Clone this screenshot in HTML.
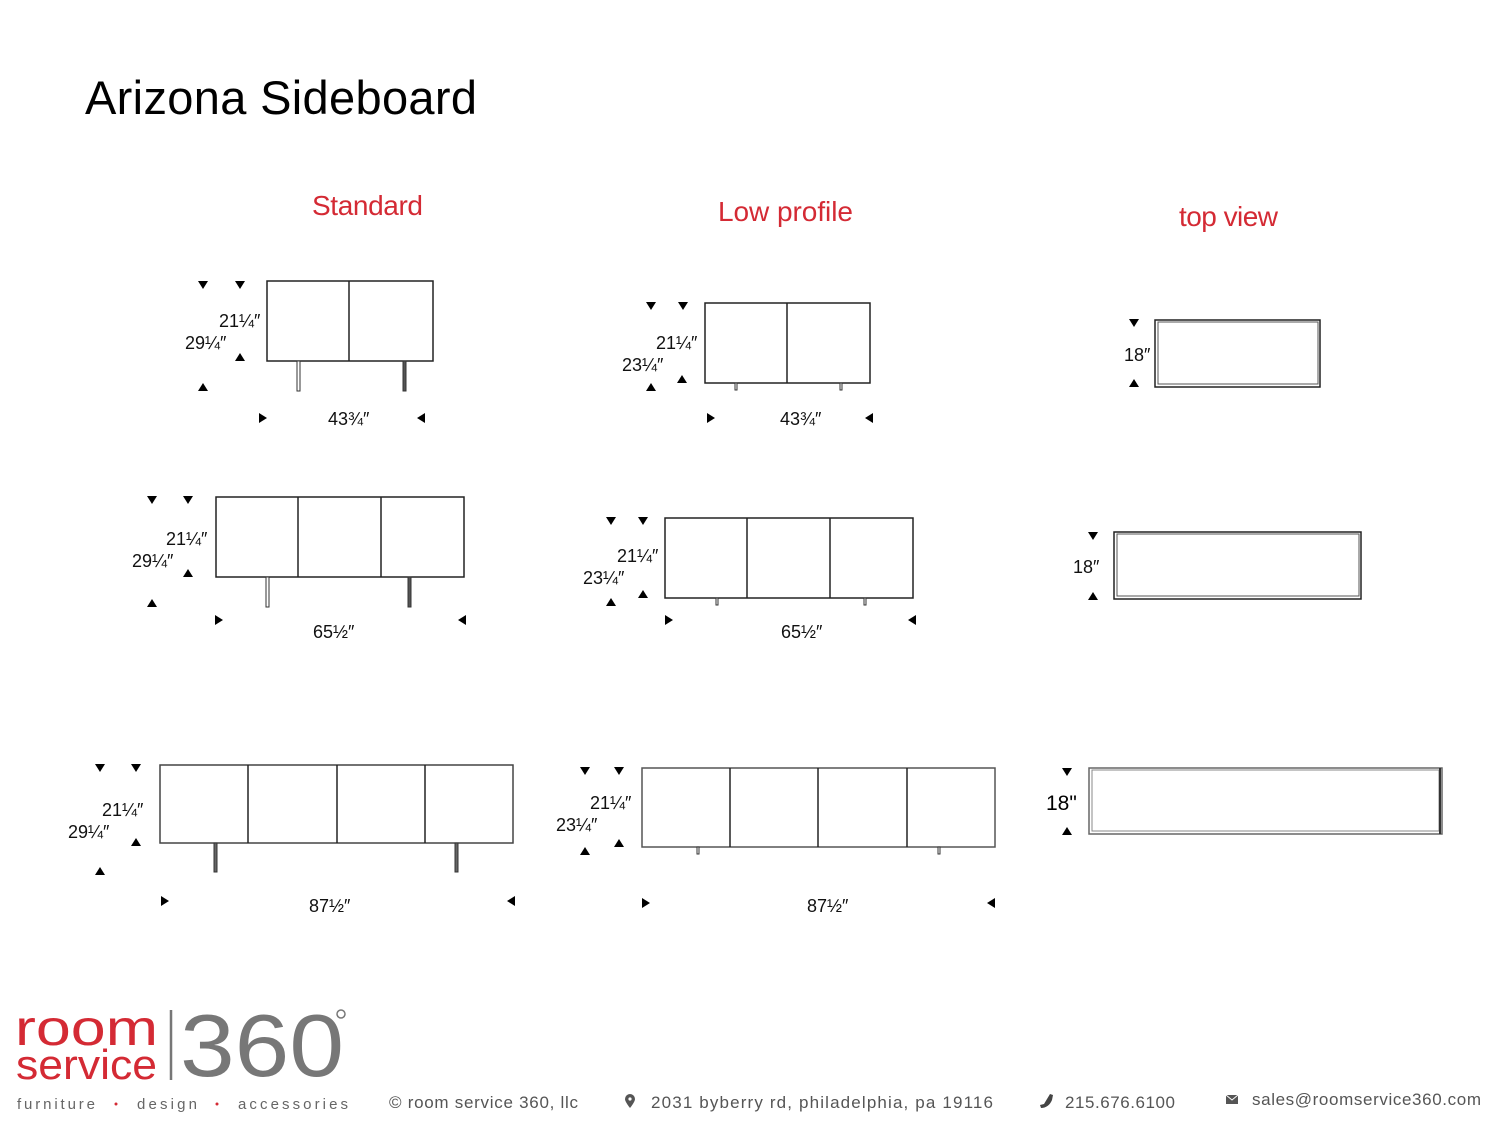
<!DOCTYPE html>
<html><head><meta charset="utf-8"><style>
html,body{margin:0;padding:0;background:#fff;width:1500px;height:1126px;overflow:hidden}
svg{display:block}
.d{font-family:"Liberation Sans",sans-serif;font-size:18px;fill:#111}
.h{font-family:"Liberation Sans",sans-serif;font-size:28px;fill:#d42a34}
.f{font-family:"Liberation Sans",sans-serif;font-size:17px;fill:#555}
.b{fill:#fff;stroke:#222;stroke-width:1.5}
.l{stroke:#222;stroke-width:1.5}
.g{fill:#fff;stroke:#333;stroke-width:1}
</style></head><body>
<svg width="1500" height="1126" viewBox="0 0 1500 1126" xmlns="http://www.w3.org/2000/svg">
<text x="85" y="114" font-family="Liberation Sans,sans-serif" font-size="47" fill="#000" textLength="392">Arizona Sideboard</text>
<text x="312" y="215" class="h" textLength="111">Standard</text>
<text x="718" y="221" class="h" textLength="135">Low profile</text>
<text x="1179" y="226" class="h" textLength="99">top view</text>

<!-- Standard row1 -->
<rect x="267" y="281" width="166" height="80" class="b"/>
<line x1="349" y1="281" x2="349" y2="361" class="l"/>
<rect x="297" y="361" width="3" height="30" class="g"/><rect x="403" y="361" width="3" height="30" class="g" style="fill:#555"/>
<path d="M198 281h10l-5 8zM235 281h10l-5 8zM235 361h10l-5-8zM198 391h10l-5-8zM259 413v10l8-5zM425 413v10l-8-5z"/>
<text x="219" y="327" class="d">21¼″</text><text x="185" y="349" class="d">29¼″</text><text x="328" y="425" class="d">43¾″</text>

<!-- Low row1 -->
<rect x="705" y="303" width="165" height="80" class="b"/>
<line x1="787" y1="303" x2="787" y2="383" class="l"/>
<rect x="735" y="383" width="2" height="7" class="g"/><rect x="840" y="383" width="2" height="7" class="g"/>
<path d="M646 302h10l-5 8zM678 302h10l-5 8zM677 383h10l-5-8zM646 391h10l-5-8zM707 413v10l8-5zM873 413v10l-8-5z"/>
<text x="656" y="349" class="d">21¼″</text><text x="622" y="371" class="d">23¼″</text><text x="780" y="425" class="d">43¾″</text>

<!-- Top row1 -->
<rect x="1155" y="320" width="165" height="67" class="b"/>
<rect x="1158" y="322" width="160" height="62" fill="none" stroke="#555" stroke-width="1"/>
<path d="M1129 319h10l-5 8zM1129 387h10l-5-8z"/>
<text x="1124" y="361" class="d">18″</text>

<!-- Standard row2 -->
<rect x="216" y="497" width="248" height="80" class="b"/>
<line x1="298" y1="497" x2="298" y2="577" class="l"/><line x1="381" y1="497" x2="381" y2="577" class="l"/>
<rect x="266" y="577" width="3" height="30" class="g"/><rect x="408" y="577" width="3" height="30" class="g" style="fill:#555"/>
<path d="M147 496h10l-5 8zM183 496h10l-5 8zM183 577h10l-5-8zM147 607h10l-5-8zM215 615v10l8-5zM466 615v10l-8-5z"/>
<text x="166" y="545" class="d">21¼″</text><text x="132" y="567" class="d">29¼″</text><text x="313" y="638" class="d">65½″</text>

<!-- Low row2 -->
<rect x="665" y="518" width="248" height="80" class="b"/>
<line x1="747" y1="518" x2="747" y2="598" class="l"/><line x1="830" y1="518" x2="830" y2="598" class="l"/>
<rect x="716" y="598" width="2" height="7" class="g"/><rect x="864" y="598" width="2" height="7" class="g"/>
<path d="M606 517h10l-5 8zM638 517h10l-5 8zM638 598h10l-5-8zM606 606h10l-5-8zM665 615v10l8-5zM916 615v10l-8-5z"/>
<text x="617" y="562" class="d">21¼″</text><text x="583" y="584" class="d">23¼″</text><text x="781" y="638" class="d">65½″</text>

<!-- Top row2 -->
<rect x="1114" y="532" width="247" height="67" class="b"/>
<rect x="1117" y="534" width="242" height="62" fill="none" stroke="#555" stroke-width="1"/>
<path d="M1088 532h10l-5 8zM1088 600h10l-5-8z"/>
<text x="1073" y="573" class="d">18″</text>

<!-- Standard row3 -->
<rect x="160" y="765" width="353" height="78" class="b" style="stroke:#444"/>
<line x1="248" y1="765" x2="248" y2="843" class="l"/><line x1="337" y1="765" x2="337" y2="843" class="l"/><line x1="425" y1="765" x2="425" y2="843" class="l"/>
<rect x="214" y="843" width="3" height="29" class="g" style="fill:#666"/><rect x="455" y="843" width="3" height="29" class="g" style="fill:#666"/>
<path d="M95 764h10l-5 8zM131 764h10l-5 8zM131 846h10l-5-8zM95 875h10l-5-8zM161 896v10l8-5zM515 896v10l-8-5z"/>
<text x="102" y="816" class="d">21¼″</text><text x="68" y="838" class="d">29¼″</text><text x="309" y="912" class="d">87½″</text>

<!-- Low row3 -->
<rect x="642" y="768" width="353" height="79" class="b" style="stroke:#555"/>
<line x1="730" y1="768" x2="730" y2="847" class="l"/><line x1="818" y1="768" x2="818" y2="847" class="l"/><line x1="907" y1="768" x2="907" y2="847" class="l"/>
<rect x="697" y="847" width="2" height="7" class="g"/><rect x="938" y="847" width="2" height="7" class="g"/>
<path d="M580 767h10l-5 8zM614 767h10l-5 8zM614 847h10l-5-8zM580 855h10l-5-8zM642 898v10l8-5zM995 898v10l-8-5z"/>
<text x="590" y="809" class="d">21¼″</text><text x="556" y="831" class="d">23¼″</text><text x="807" y="912" class="d">87½″</text>

<!-- Top row3 -->
<rect x="1089" y="768" width="353" height="66" class="b" style="stroke:#666"/>
<rect x="1092" y="770" width="347" height="61" fill="none" stroke="#888" stroke-width="1"/>
<line x1="1440" y1="768" x2="1440" y2="834" stroke="#333" stroke-width="2"/>
<path d="M1062 768h10l-5 8zM1062 835h10l-5-8z"/>
<text x="1046" y="810" font-family="Liberation Sans,sans-serif" font-size="21" fill="#000">18"</text>

<!-- Footer logo -->
<text x="15" y="1045" font-family="Liberation Sans,sans-serif" font-size="50" fill="#d42a34" textLength="143" lengthAdjust="spacingAndGlyphs">room</text>
<text x="16" y="1079" font-family="Liberation Sans,sans-serif" font-size="42" fill="#d42a34" textLength="141" lengthAdjust="spacingAndGlyphs">service</text>
<line x1="171" y1="1010" x2="171" y2="1080" stroke="#777" stroke-width="2.5"/>
<text x="180" y="1076" font-family="Liberation Sans,sans-serif" font-size="88" fill="#777" textLength="164" lengthAdjust="spacingAndGlyphs">360</text>
<circle cx="341" cy="1014" r="4" fill="none" stroke="#777" stroke-width="1.5"/>
<text x="17" y="1109" font-family="Liberation Sans,sans-serif" font-size="15" fill="#666" textLength="78">furniture</text>
<circle cx="116" cy="1104" r="1.5" fill="#d42a34"/>
<text x="137" y="1109" font-family="Liberation Sans,sans-serif" font-size="15" fill="#666" textLength="60">design</text>
<circle cx="217" cy="1104" r="1.5" fill="#d42a34"/>
<text x="238" y="1109" font-family="Liberation Sans,sans-serif" font-size="15" fill="#666" textLength="110">accessories</text>
<text x="389" y="1108" class="f" textLength="189">© room service 360, llc</text>
<path d="M630 1094a5 5 0 0 1 5 5c0 3-5 9-5 9s-5-6-5-9a5 5 0 0 1 5-5z" fill="#555"/><circle cx="630" cy="1099" r="1.6" fill="#fff"/>
<text x="651" y="1108" class="f" textLength="342">2031 byberry rd, philadelphia, pa 19116</text>
<path d="M1050 1094l3 1-1 5c-2 5-6 8-11 8l-1-3 4-1z" fill="#444"/>
<text x="1065" y="1108" class="f" textLength="110">215.676.6100</text>
<rect x="1226" y="1095" width="12" height="9" fill="#555"/><path d="M1226 1095l6 5 6-5" fill="none" stroke="#fff" stroke-width="1"/>
<text x="1252" y="1105" class="f" textLength="229">sales@roomservice360.com</text>
</svg>
</body></html>
